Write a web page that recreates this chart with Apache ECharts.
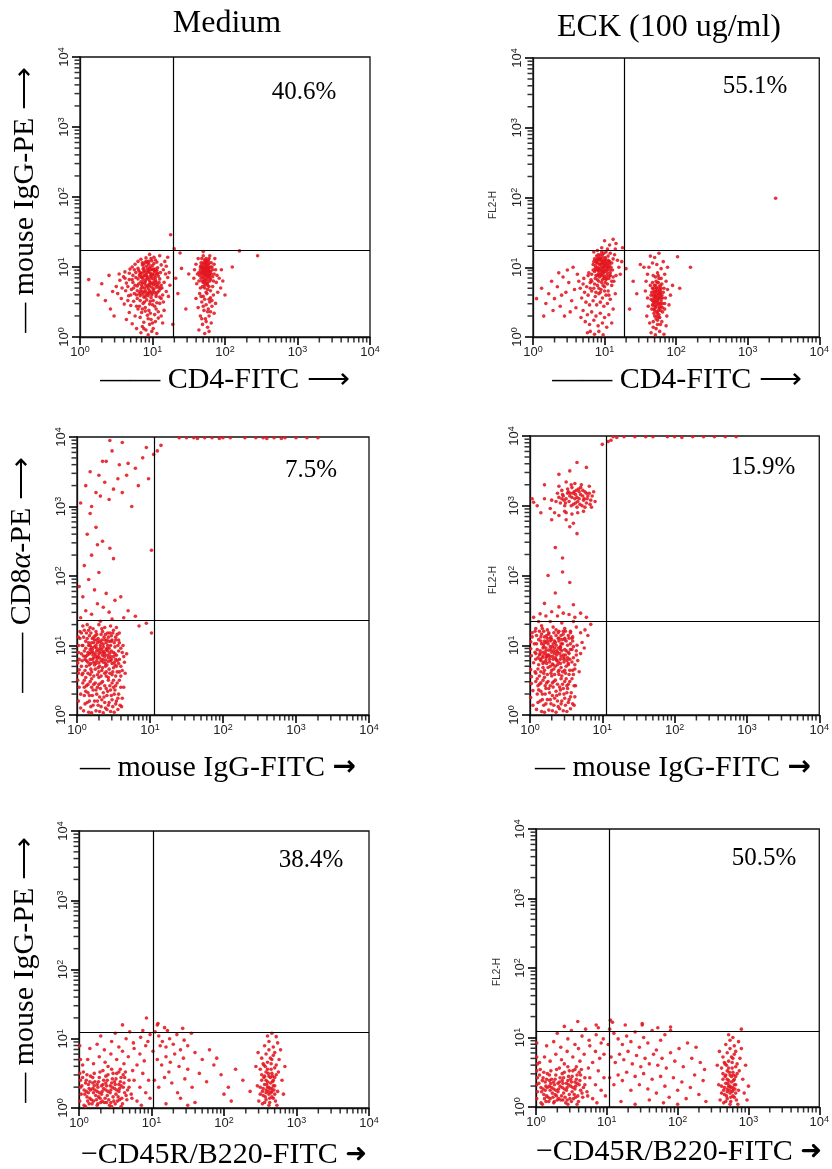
<!DOCTYPE html>
<html><head><meta charset="utf-8">
<script src="https://cdn.jsdelivr.net/npm/echarts@6/dist/echarts.min.js"></script>
<style>html,body{margin:0;padding:0;background:#fff}#c{width:832px;height:1169px}</style>
</head><body><div id="c"></div>
<script>
// ---- data (log10 units x100: "x,y") ----
const tickExponents = [0,1,2,3,4];
const minorFactors = [2,3,4,5,6,7,8,9];
const columnTitles = ['Medium','ECK (100 ug/ml)'];
const percentLabels = ['40.6%','55.1%','7.5%','15.9%','38.4%','50.5%'];
const xTitles = ['—— CD4-FITC ⟶','—— CD4-FITC ⟶','— mouse IgG-FITC {ar|→}','— mouse IgG-FITC {ar|→}','−CD45R/B220-FITC {ar2|➜}','−CD45R/B220-FITC {ar2|➜}'];
const yTitles = ['— mouse IgG-PE ⟶','—— CD8{i|α}-PE ⟶','— mouse IgG-PE ⟶'];
const gateX = [1.28,1.27,1.06,1.05,1.03,1.03];
const gateY = [1.24,1.245,1.36,1.35,1.10,1.09];

const medCD4 = `82,88 88,93 93,85 97,91 101,83 86,77 91,74 96,80 99,71 104,81 84,69 89,64 94,69 100,63 106,71 87,97 92,101 98,96 103,93 108,87 80,83 85,85 90,79 95,75 102,78 107,75 83,59 88,57 93,63 98,56 105,61 110,83 81,95 95,104 100,102 90,107 86,103 97,87 92,92 103,88
76,104 84,111 91,113 99,109 106,107 112,103 117,108 121,114 110,116 96,118 102,114 115,96 119,101 123,92 80,108 72,100
55,81 60,86 64,77 68,91 72,82 76,74 58,70 63,66 67,59 71,68 75,62 79,55 52,62 57,55 61,47 66,52 70,45 74,51 78,44 62,93 69,97 73,88 77,92 50,72 54,90
80,40 85,35 90,42 95,38 100,46 105,40 110,48 83,28 88,21 93,31 98,25 103,32 108,27 86,15 91,10 96,18 101,12 106,5 84,6 94,3 99,8 114,20 116,38 112,55 76,30 72,19 68,35 64,25 78,12 89,50 97,51
113,70 116,78 119,65 121,85 124,74 118,90 114,60 122,58 12,82 30,76 35,52 40,88 45,65 42,40 25,60 47,30
87,82 92,87 96,73 100,90 85,91 94,95 98,84 89,70 104,74 91,60 84,79 101,67 95,108 88,104 106,95 79,73 83,65 99,77
81,76 86,71 90,66 94,59 97,64 102,69 105,58 109,66 83,92 88,99 93,97 97,100 102,105 107,99 111,92 84,86 89,88 94,83 99,87 104,85 109,78 112,74 79,66 83,52 87,48 92,53 96,47 101,52 106,49 110,57 115,50 78,60 74,70 80,98 92,108 100,96 104,97 96,66 91,82 86,65 77,85 73,78 70,60 66,72 62,84 68,82 75,96 82,44 90,37 97,34 103,44 108,36 112,30 86,40 94,26 100,20 88,12 104,22
83,90 87,86 91,89 95,93 99,89 103,95 107,91 85,74 89,77 93,72 97,77 101,75 105,78 109,71 82,62 86,61 90,57 95,62 99,60 103,64 107,64 111,69 86,106 93,106 98,112 104,110 89,95 96,98 101,97 106,90
168,100 172,96 176,102 170,92 174,88 178,94 166,96 171,104 175,108 180,100 169,86 173,82 177,86 181,90 165,88 172,110 178,112 167,106 183,96 176,78 170,78 164,80 180,82 174,94 168,112
160,104 158,96 162,90 185,104 187,96 189,88 184,80 163,112 170,116 179,116 186,112 161,76 166,70 172,70 178,72 183,72 188,78 192,84 195,96 157,84
165,62 170,58 175,62 180,56 168,50 174,46 179,50 184,60 163,42 171,38 177,40 182,44 166,30 173,26 178,30 185,34 169,18 176,14 181,20 164,10 172,5 178,8 187,48 160,55 190,64 194,70 197,80
171,98 175,92 169,94 177,99 173,104 167,92 179,88 174,100
169,98 173,100 177,104 171,90 175,86 179,92 167,84 171,80 175,76 179,80 183,86 166,100 170,106 174,112 178,106 182,100 164,92 168,80 172,74 176,68 180,66 185,90 173,92 177,95 169,72 174,64 178,54 172,54 167,58 182,52 176,36 170,44 180,36 174,22 168,26
170,96 174,98 178,98 172,88 176,90 180,94 168,90 171,84 175,82 179,84 167,102 173,108 177,110 181,106 176,96 170,100 174,106 178,88 172,78 176,74
125,146 130,126 138,120 170,122 220,123 245,116 140,98 135,62 150,90 132,84 210,100 200,60 146,40 128,18`;

const eckCD4 = `88,108 92,112 96,106 100,110 104,104 90,100 94,96 98,100 102,96 106,100 86,94 91,90 95,88 99,92 103,88 108,92 84,104 89,116 97,118 101,114 105,116 93,104 110,106 87,84 92,80 97,82 101,78 106,84 82,90 111,96 96,110 100,104 94,112 98,94
70,76 75,72 80,78 85,70 90,74 95,68 100,72 105,66 110,74 72,64 77,60 82,66 87,58 92,62 97,56 102,60 108,54 68,56 74,50 79,46 84,52 89,46 94,50 99,44 104,48 115,62 113,80 66,70 71,84 77,88 81,82
70,38 76,32 82,36 88,30 94,34 100,28 106,32 73,22 79,18 85,24 91,16 97,20 103,14 80,8 86,4 92,8 98,3 76,6 67,28 110,20 112,40
90,124 96,128 102,122 108,120 114,118 118,110 120,100 115,126 107,132 100,138 85,122 122,90 124,108 116,88
5,55 12,70 18,48 22,62 26,80 30,55 34,72 38,44 42,86 46,64 50,78 54,52 58,68 62,90 36,92 28,38 44,30 52,36 60,42 15,30 40,60 48,96 56,100 64,80
89,106 93,110 97,114 101,108 105,110 91,96 95,100 99,98 103,100 107,104 87,98 92,94 96,92 100,86 104,92 108,96 85,108 90,112 94,118 98,106 102,102 106,108 88,88 93,86 98,88 102,82 107,88 84,96 90,82 96,78 86,76 92,70 98,74 104,76 110,80 82,80 80,70 94,64 100,66 106,60 88,64 78,92 112,86 112,112 96,122 104,126
87,102 91,106 95,104 99,102 103,106 107,108 89,110 93,114 97,108 101,112 105,100 109,100 88,96 92,98 96,96 100,94 104,96 108,88 90,88 94,90 99,84 103,84 91,118 99,120 86,112
168,70 172,66 176,72 170,60 174,56 178,62 166,64 171,50 175,46 179,52 169,40 173,36 177,42 181,48 165,54 172,80 176,84 180,76 168,88 174,92 178,58 170,30 176,32 182,64 164,74 173,62 171,44 175,54 177,68 169,56
160,90 162,100 167,106 173,104 179,98 184,90 186,80 158,80 157,66 160,56 185,56 188,68 161,44 184,40 187,30 159,30 163,20 168,14 174,18 180,22 186,16 165,6 171,3 177,8 183,4 190,46 192,60 195,74 155,100 170,114 176,120 164,116 182,108 188,100
169,66 173,70 177,64 171,58 175,60 179,56 167,70 171,74 175,78 179,70 169,50 173,52 177,48 181,56 167,46 171,42 175,38 179,44 169,34 173,30 177,28 181,36 167,78 171,86 175,88 179,84 165,60 183,70 168,22 174,24 178,18 172,12 166,40 184,48
170,64 174,66 178,66 172,70 176,62 170,54 174,50 178,48 172,46 176,42 170,38 174,34 178,38 172,58 168,60 180,60 168,46 176,56 172,26 176,28 170,74 174,78 178,74 167,52 181,42
339,199 112,140 116,134 125,128 130,98 140,80 145,62 150,104 202,115 220,100 205,70 135,40`;

const medCD8 = `15,90 20,97 25,88 30,93 35,86 40,94 45,89 50,84 18,80 23,76 28,82 33,78 38,84 43,77 48,74 53,80 16,104 21,110 26,100 31,106 36,102 41,108 46,100 51,104 13,70 19,66 24,72 29,68 34,64 39,70 44,66 49,62 54,70 17,114 27,116 37,112 47,114 22,86 32,96 42,86 27,92 37,91 30,75 24,98 34,108 44,96 19,90 39,79 29,84 12,96
2,20 3,40 2,60 3,80 2,100 4,120 1,50 2,90 5,30 6,70 4,110 7,100 8,60 9,85 5,10 1,75 2,112 3,65
10,50 15,44 20,52 25,46 30,54 35,48 40,56 45,42 50,50 55,46 12,34 17,28 22,36 27,30 32,38 37,26 42,34 47,28 52,36 57,30 14,18 19,12 24,20 29,14 34,22 39,10 44,18 49,12 54,20 59,14 16,4 26,6 36,3 46,5 56,8 62,24 64,40 60,56
58,80 62,90 60,70 65,76 63,100 66,60 68,88 57,108 10,122 18,126 26,120 34,124 42,118 50,122 58,118 14,130 30,130 46,128
10,92 14,86 18,94 22,90 26,84 30,88 34,94 38,88 42,92 46,84 50,90 54,86 11,80 15,76 19,74 23,82 27,78 31,82 35,80 39,74 43,82 47,80 51,76 55,78 12,106 16,100 20,104 24,108 28,104 32,100 36,98 40,104 44,106 48,108 52,98 56,100 11,64 15,60 20,62 25,66 30,62 35,68 40,62 45,60 50,68 55,62 9,112 13,118 19,118 23,112 29,110 33,116 39,116 43,112 49,118 53,112 8,46 13,42 18,48 23,44 28,40 33,46 38,42 43,50 48,46 53,42 58,50 10,28 15,32 21,28 26,36 31,26 36,32 41,28 46,36 51,30 56,24 11,16 17,20 22,14 28,20 33,12 38,18 43,14 48,22 53,16 9,6 20,3 31,5 41,8 51,4 61,12 62,64 64,84 60,96 8,128 22,124 38,126 54,126
6,88 12,84 17,88 21,94 27,96 32,90 36,90 41,96 47,92 52,88 57,92 7,78 13,78 17,72 21,80 26,74 31,70 36,76 41,72 46,78 52,72 57,74 8,100 14,110 18,100 23,104 27,108 33,104 38,108 42,100 47,106 53,108 58,104 7,58 12,54 18,58 23,56 28,58 33,56 38,60 43,54 48,58 53,56 58,62 6,118 16,122 25,114 35,120 45,118 55,116 10,40 20,40 30,44 40,38 50,40 60,40
5,140 12,150 20,145 28,160 8,170 36,155 44,148 52,165 24,180 16,195 40,175 60,170 70,150 80,142 85,128 95,132 32,135 48,138 3,185 64,140 102,118
10,215 20,230 28,245 14,260 26,270 35,250 45,240 18,290 30,205 50,225 102,237
5,305 12,330 20,300 26,320 32,315 38,335 44,310 50,325 56,340 62,320 68,345 75,300 84,330 30,345 18,350 40,365 48,380 58,360 70,362 90,370 98,340 80,355 35,365
95,385 105,375 110,380 115,388 62,392 45,395
140,399 150,399 160,399 175,399 185,399 200,399 210,399 230,399 245,399 255,399 270,399 285,399 300,399 315,399 330,399 165,398 195,398 260,398 280,398`;

const eckCD8 = `14,92 19,98 24,86 29,94 34,88 39,96 44,92 49,86 17,82 22,78 27,84 32,80 37,86 42,80 47,76 52,82 15,106 20,112 25,102 30,108 35,104 40,110 45,102 50,106 12,72 18,68 23,74 28,70 33,66 38,72 43,68 48,64 53,72 16,116 26,118 36,114 46,116 21,88 31,98 41,88 56,94 58,110 26,93 36,80 31,73 22,104 42,97 18,85
1,25 2,45 1,65 2,85 1,105 3,118 2,55 1,95 4,35 5,75 3,112 6,102 7,62 8,88 4,14
10,52 15,46 20,54 25,48 30,56 35,50 40,58 45,44 50,52 55,48 12,36 17,30 22,38 27,32 32,40 37,28 42,36 47,30 52,38 57,32 14,20 19,14 24,22 29,16 34,24 39,12 44,20 49,14 54,22 59,16 16,5 26,7 36,4 46,6 56,9 62,26 63,42 60,58
60,82 64,92 62,72 66,78 65,100 68,62 70,88 59,112 72,104 75,96
8,124 16,128 24,122 32,126 40,120 48,124 56,120 64,126 70,118 76,122 80,114 84,130 12,134 28,134 44,132 60,134
10,94 14,88 18,96 22,92 26,86 30,90 34,96 38,90 42,94 46,86 50,92 54,88 11,82 15,78 19,76 23,84 27,80 31,84 35,82 39,76 43,84 47,82 51,78 55,80 12,108 16,102 20,106 24,110 28,106 32,102 36,100 40,106 44,108 48,110 52,100 56,102 11,66 15,62 20,64 25,68 30,64 35,70 40,64 45,62 50,70 55,64 9,114 13,120 19,120 23,114 29,112 33,118 39,118 43,114 49,120 53,114 8,48 13,44 18,50 23,46 28,42 33,48 38,44 43,52 48,48 53,44 58,52 10,30 15,34 21,30 26,38 31,28 36,34 41,30 46,38 51,32 56,26 11,18 17,22 22,16 28,22 33,14 38,20 43,16 48,24 53,18 9,8 20,4 31,6 41,9 51,5 61,14 62,66 64,86 60,98
7,90 13,86 18,90 22,96 28,98 33,92 37,92 42,98 48,94 53,90 58,94 8,80 14,80 18,74 22,82 27,76 32,72 37,78 42,74 47,80 53,74 58,76 9,102 15,112 19,102 24,106 28,110 34,106 39,110 43,102 48,108 54,110 59,106 8,60 13,56 19,60 24,58 29,60 34,58 39,62 44,56 49,60 54,58 59,64 7,120 17,124 26,116 36,122 46,120 56,118 11,42 21,42 31,46 41,40 51,42 61,42
5,140 14,145 22,142 30,148 38,142 46,146 54,144 62,140 70,146 78,140 20,160 40,155 60,158 35,175 55,190 25,200 45,205 35,240 45,225 65,260 30,280 50,290 55,270 15,290
40,312 45,316 50,310 55,314 60,318 65,312 70,316 75,310 80,314 42,304 48,300 54,306 60,302 66,306 72,300 78,304 84,308 44,322 52,324 58,326 64,322 70,326 76,320 82,318 38,318 86,314 36,306 62,310 68,320 56,318 47,308 74,308
46,314 52,318 58,312 63,316 68,310 73,314 78,318 49,304 57,300 63,304 69,302 76,298 53,320 61,320 67,324 73,322 79,310 44,310 83,302 57,330 71,330 65,298
30,308 28,296 34,290 40,286 48,292 58,288 66,290 74,292 85,298 88,320 82,328 90,306 62,332 50,334 40,328 5,305 3,310 10,300 20,310 50,280 60,275 55,350 65,362 78,355 40,345 20,330
115,399 120,398 130,399 145,399 160,399 170,399 190,399 200,399 210,398 225,399 240,399 255,399 270,399 285,399 108,392 112,394 100,388`;

const medB220 = `8,20 14,28 20,22 26,30 32,24 38,32 44,26 50,34 56,28 62,36 10,40 16,46 22,38 28,44 34,40 40,48 46,42 52,50 58,44 64,52 12,10 18,6 24,12 30,8 36,14 42,4 48,10 54,16 60,6 66,12 6,52 4,32 9,2 15,14 21,50 27,16 33,54 39,18 45,56 51,20 57,56 63,22 69,30
7,26 13,22 19,28 25,24 31,20 37,26 43,22 49,28 55,24 61,30 67,26 9,36 15,38 21,32 27,38 33,34 39,40 45,36 51,42 57,38 63,44 11,16 17,12 23,18 29,14 35,8 41,12 47,16 53,10 59,14 65,18 5,44 11,48 19,44 29,52 37,46 47,50 55,52 61,48 69,40 73,14 7,4 25,4 45,2 58,2
10,24 16,26 22,26 28,22 34,28 40,24 46,30 52,26 58,32 13,34 19,36 25,34 31,32 37,36 43,32 49,38 55,34 14,6 20,10 26,6 32,10 38,8 44,8 50,6 56,12
5,62 12,70 20,64 28,74 36,66 44,78 52,70 60,82 68,74 76,86 84,78 92,90 15,86 25,92 35,84 45,96 55,88 65,100 75,94 85,102 95,96 30,104 50,108 70,110 88,112 98,106 40,60 62,64 80,62 90,68
72,20 76,40 80,10 84,30 88,50 92,22 96,40 74,54 86,4 98,14 1,10 2,30 1,50 2,70 1,90 3,20 2,40
105,110 110,104 115,96 120,88 125,100 130,92 135,106 140,84 145,98 150,90 155,108 160,80 108,70 114,62 120,74 126,66 132,78 138,60 144,72 150,56 104,40 110,30 118,44 128,36 136,22 146,42 156,30 166,50 176,38 186,62 196,48 206,30 216,56 226,40 236,24 170,70 180,84 190,72 200,20 210,10 160,8 150,4 140,14 120,6 102,82 108,120 118,116 112,90 124,52
250,20 254,28 258,22 262,30 266,24 270,32 252,40 256,46 260,38 264,44 268,40 272,48 248,10 253,6 258,12 263,8 268,14 273,4 250,56 255,62 260,56 265,64 270,58 275,52 252,72 258,78 264,72 270,80 276,70 256,90 262,96 268,88 274,94 260,104 266,108 246,32 244,60 280,40 282,20 284,60 278,84 247,80
254,18 258,26 262,20 266,28 256,34 260,30 264,36 268,32 252,48 258,52 262,46 266,50 270,44 254,64 260,66 266,70 262,84 268,76 256,8 262,4 266,16 270,20 250,30 274,24 272,62 258,40
257,16 261,24 265,22 259,34 263,28 267,38 255,44 261,50 265,56 269,26 257,60 263,14 271,10 253,24 267,46
93,130 109,122 143,115 272,103 60,120 122,112`;

const eckB220 = `8,22 14,30 20,24 26,32 32,26 38,34 44,28 50,36 56,30 62,38 10,42 16,48 22,40 28,46 34,42 40,50 46,44 52,52 58,46 64,54 12,12 18,8 24,14 30,10 36,16 42,6 48,12 54,18 60,8 66,14 6,54 4,34 9,4 15,16 21,52 27,18 33,56 39,20 45,58 51,22 57,58 63,24 69,32
7,28 13,24 19,30 25,26 31,22 37,28 43,24 49,30 55,26 61,32 67,28 9,38 15,40 21,34 27,40 33,36 39,42 45,38 51,44 57,40 63,46 11,18 17,14 23,20 29,16 35,10 41,14 47,18 53,12 59,16 65,20 5,46 11,50 19,46 29,54 37,48 47,52 55,54 61,50 69,42 73,16 7,6 25,6 45,4 58,4
10,26 16,28 22,28 28,24 34,30 40,26 46,32 52,28 58,34 13,36 19,38 25,36 31,34 37,38 43,34 49,40 55,36 14,8 20,12 26,8 32,12 38,10 44,10 50,8 56,14
5,64 12,72 20,66 28,76 36,68 44,80 52,72 60,84 68,76 76,88 84,80 92,92 15,88 25,94 35,86 45,98 55,90 65,102 75,96 85,104 95,98 30,106 50,110 70,112 88,114 40,62 62,66 80,64 90,70 96,76
72,22 76,42 80,12 84,32 88,52 92,24 96,42 74,56 86,6 98,16 1,12 1,32 1,52 1,72 1,92 2,22 2,42 2,62
104,112 110,106 116,98 122,90 128,102 134,94 140,108 146,86 152,100 158,92 164,110 170,82 176,96 182,104 106,72 112,64 118,76 124,68 130,80 136,62 142,74 148,58 154,70 160,62 166,76 172,60 178,70 184,56 190,78 196,66 202,84 208,58 214,92 220,70 226,86 232,64 238,54 104,42 110,32 116,46 122,38 128,50 134,24 140,44 146,32 152,48 158,26 164,40 170,20 176,44 182,30 188,14 194,42 200,24 206,36 212,12 218,28 224,46 230,18 236,38 240,8 120,8 140,4 160,10 180,6 200,4 102,90 108,122 126,118 150,118 172,114 190,110
262,20 266,28 270,22 274,30 278,24 282,32 264,40 268,46 272,38 276,44 280,40 284,48 260,10 265,6 270,12 275,8 280,14 285,4 262,56 267,62 272,56 277,64 282,58 287,52 264,72 270,78 276,72 282,80 288,70 268,90 274,96 280,88 286,94 272,104 278,100 258,32 256,60 292,40 294,20 296,60 290,84 259,80 300,30 298,10
266,18 270,26 274,20 278,28 268,34 272,30 276,36 280,32 264,48 270,52 274,46 278,50 282,44 266,64 272,66 278,70 274,84 280,76 268,8 274,4 278,16 282,20 262,30 286,24 284,62 270,40
269,16 273,24 277,22 271,34 275,28 279,38 267,44 273,50 277,56 281,26 269,60 275,14 283,10 265,24 279,46
59,123 105,125 150,120 190,115 290,112 85,118 40,116`;

const panelData = [medCD4, eckCD4, medCD8, eckCD8, medB220, eckB220];

// ---- layout ----
const grids = [
  {left:80, top:57, width:290, height:280},
  {left:533, top:58, width:290, height:279},
  {left:77, top:437, width:292, height:278},
  {left:530, top:436, width:293, height:279},
  {left:79, top:831, width:290, height:277},
  {left:536, top:829, width:288, height:278}
];
const pctPos = [[304,92],[755,86],[311,470],[763,467],[311,860],[764,858]];
const xTitlePos = [[225,380],[677,380],[218,768],[673,768],[224,1155],[679,1152]];
const yTitlePos = [[25,200],[22,575],[25,970]];
const fl2Pos = [[493,205],[493,580],[497,972]];
const titlePos = [[227,24],[669,28]];

function parsePts(s){ return s.trim().split(/\s+/).map(p => p.split(',').map(n => (+n)/100)); }
const minorVals = [];
tickExponents.slice(0,4).forEach(d => minorFactors.forEach(k => minorVals.push(d + Math.log10(k))));

const SERIF = '"Liberation Serif","Times New Roman",serif';
const SANS = '"Liberation Sans",Arial,sans-serif';
const labelRich = {
  a:{fontSize:13, fontFamily:SANS, color:'#222', lineHeight:15},
  b:{fontSize:9, fontFamily:SANS, color:'#222', lineHeight:9, verticalAlign:'top'}
};
const fmt = v => '{a|10}{b|' + v + '}';

const axisBase = i => ({
  gridIndex:i, type:'value', min:0, max:4, interval:1,
  axisLine:{show:true, onZero:false, lineStyle:{color:'#111', width:1.3}},
  axisTick:{show:true, length:8, inside:false, lineStyle:{color:'#000', width:1.6}},
  splitLine:{show:false}
});

const option = {
  animation:false,
  backgroundColor:'#fff',
  textStyle:{fontFamily:SANS},
  grid: grids.map(g => Object.assign({show:true, borderColor:'#111', borderWidth:1.3, backgroundColor:'transparent', containLabel:false}, g)),
  xAxis: grids.map((g,i) => Object.assign(axisBase(i), {
    axisLabel:{formatter:fmt, rich:labelRich, margin:8, showMinLabel:true, showMaxLabel:true}
  })),
  yAxis: grids.map((g,i) => Object.assign(axisBase(i), {
    axisLabel:{formatter:fmt, rich:labelRich, rotate:90, margin:8, showMinLabel:true, showMaxLabel:true}
  })),
  series: [],
  graphic: []
};

const tickStyle = {color:'#000'};
panelData.forEach((s,i) => {
  option.series.push({
    type:'scatter', xAxisIndex:i, yAxisIndex:i, data:parsePts(s),
    symbolSize:3.6, itemStyle:{color:'#e3161f', opacity:0.88}, silent:true, z:2,
    markLine:{silent:true, symbol:['none','none'], label:{show:false},
      lineStyle:{color:'#000', width:1.2, type:'solid'},
      emphasis:{disabled:true},
      data:[{xAxis:gateX[i]},{yAxis:gateY[i]}]}
  });
  // minor ticks drawn as small bars outside the frame (x below, y left)
  option.series.push({
    type:'scatter', xAxisIndex:i, yAxisIndex:i, silent:true, z:6, clip:false,
    data:minorVals.map(v => [v,0]), symbol:'rect', symbolSize:[1.5,5], symbolOffset:[0,3],
    itemStyle:tickStyle
  });
  option.series.push({
    type:'scatter', xAxisIndex:i, yAxisIndex:i, silent:true, z:6, clip:false,
    data:minorVals.map(v => [0,v]), symbol:'rect', symbolSize:[5,1.5], symbolOffset:[-3,0],
    itemStyle:tickStyle
  });
});

columnTitles.forEach((t,i) => option.graphic.push({type:'text', x:titlePos[i][0], y:titlePos[i][1],
  style:{text:t, fontSize:32, fontFamily:SERIF, fill:'#000', align:'center', verticalAlign:'middle'}}));
percentLabels.forEach((t,i) => option.graphic.push({type:'text', x:pctPos[i][0], y:pctPos[i][1],
  style:{text:t, fontSize:25, fontFamily:SERIF, fill:'#000', align:'center', verticalAlign:'middle'}}));
xTitles.forEach((t,i) => option.graphic.push({type:'text', x:xTitlePos[i][0], y:xTitlePos[i][1],
  style:{text:t, fontSize:30, fontFamily:SERIF, fill:'#000', align:'center', verticalAlign:'middle',
    rich:{
      ar:{fontSize:28, fontFamily:'"DejaVu Sans",sans-serif', fontWeight:'bold', fill:'#000'},
      ar2:{fontSize:26, fontFamily:'"DejaVu Sans",sans-serif', fill:'#000'}
    }}}));
yTitles.forEach((t,i) => option.graphic.push({type:'text', x:yTitlePos[i][0], y:yTitlePos[i][1], rotation:Math.PI/2,
  style:{text:t, fontSize:30, fontFamily:SERIF, fill:'#000', align:'center', verticalAlign:'middle',
    rich:{i:{fontSize:30, fontFamily:SERIF, fontStyle:'italic', fill:'#000'}}}}));
fl2Pos.forEach(p => option.graphic.push({type:'text', x:p[0], y:p[1], rotation:Math.PI/2,
  style:{text:'FL2-H', fontSize:10, fontFamily:SANS, fill:'#333', align:'center', verticalAlign:'middle'}}));

const chart = echarts.init(document.getElementById('c'), null, {renderer:'canvas'});
chart.setOption(option);
</script></body></html>
